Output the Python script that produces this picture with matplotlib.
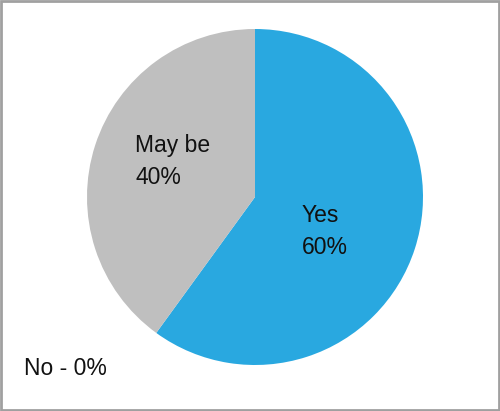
import matplotlib
matplotlib.use("Agg")
import matplotlib.pyplot as plt
from matplotlib.patches import Rectangle

categories = ["Yes", "May be", "No"]
values = [60, 40, 0]
colors = ["#29A8E0", "#BFBFBF", "#FFFFFF"]

plt.rcParams['font.family'] = ['Liberation Sans', 'DejaVu Sans']

fig = plt.figure(figsize=(5.0, 4.11), dpi=100)
fig.patch.set_facecolor("white")

# pie axes: center (255,197) radius 168 in pixels
W, H = 500, 411
cx, cy, r = 255, 197, 168
ax = fig.add_axes([(cx - r) / W, 1 - (cy + r) / H, 2 * r / W, 2 * r / H])
plot_vals = [v for v in values if v > 0]
plot_cols = [c for v, c in zip(values, colors) if v > 0]
ax.pie(plot_vals, colors=plot_cols, startangle=90, counterclock=False,
       wedgeprops=dict(linewidth=0))
ax.set_aspect('equal')
ax.set_xlim(-1, 1)
ax.set_ylim(-1, 1)

def px(x, y):
    return x / W, 1 - y / H

fig.text(*px(302, 231), f"{categories[0]}\n{values[0]}%", fontsize=16.5,
         ha="left", va="center", color="#111111", linespacing=1.5)
fig.text(*px(135, 161), f"{categories[1]}\n{values[1]}%", fontsize=16.5,
         ha="left", va="center", color="#111111", linespacing=1.5)
fig.text(*px(24, 368), f"{categories[2]} - {values[2]}%", fontsize=16.5,
         ha="left", va="center", color="#111111")

fig.patches.append(Rectangle((0.002, 0.003), 0.995, 0.994, transform=fig.transFigure,
                             fill=False, edgecolor="#A0A0A0", linewidth=2))

fig.savefig("out.png", dpi=100)
